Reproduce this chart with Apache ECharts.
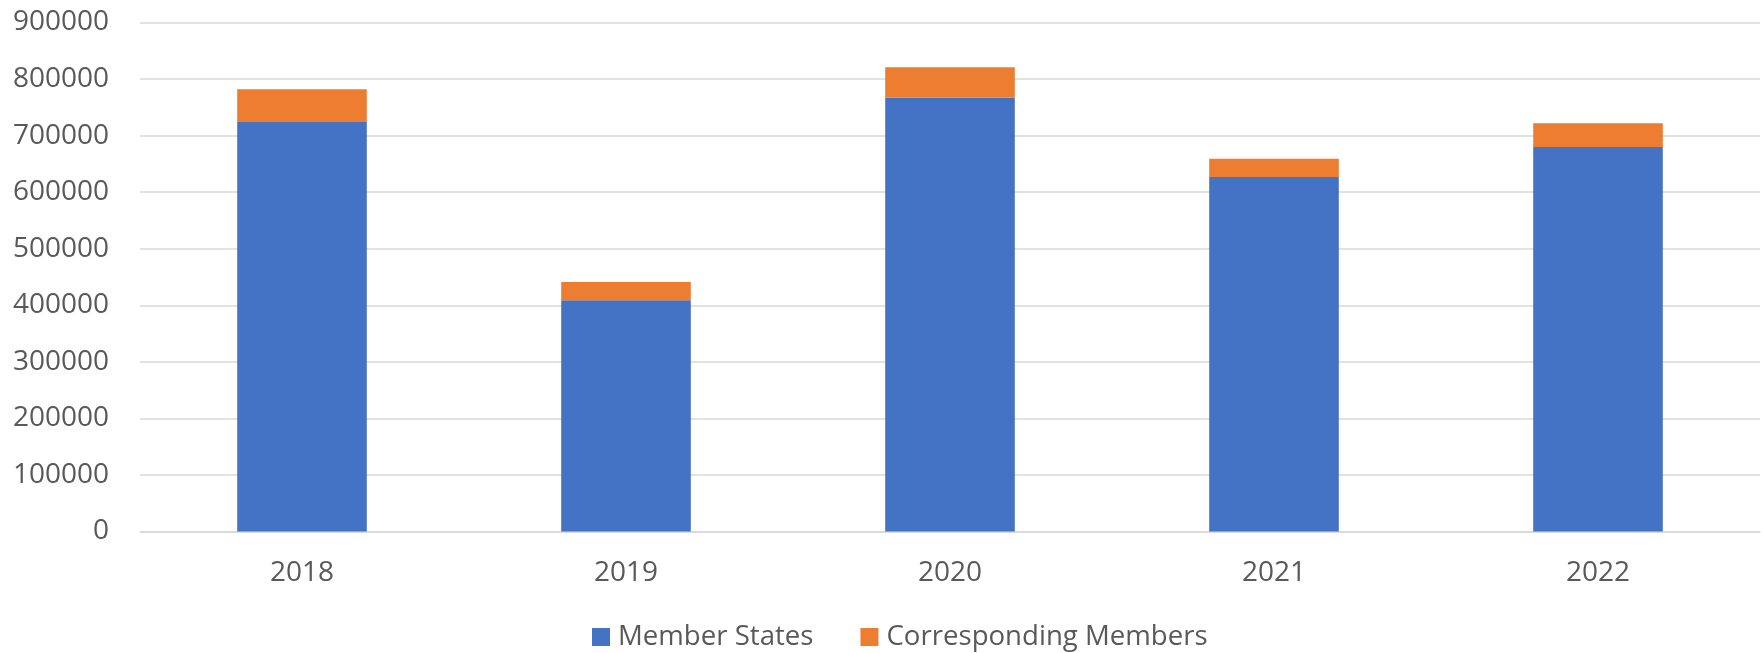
<!DOCTYPE html>
<html>
<head>
<meta charset="utf-8">
<script src="https://cdn.jsdelivr.net/npm/echarts@6/dist/echarts.min.js"></script>
<style>
html,body{margin:0;padding:0;background:#fff;}
#chart{width:1763px;height:653px;}
</style>
</head>
<body>
<div id="chart"></div>
<script>
const categories = ['2018', '2019', '2020', '2021', '2022'];
const memberStates = [724000, 409000, 767000, 627000, 680000];
const correspondingMembers = [58000, 32000, 54000, 32000, 42000];
const seriesNames = ['Member States', 'Corresponding Members'];

const FONT = '"Open Sans", "Noto Sans", sans-serif';
const chart = echarts.init(document.getElementById('chart'));
chart.setOption({
  animation: false,
  backgroundColor: '#ffffff',
  textStyle: { fontFamily: FONT },
  grid: { left: 140, right: 3, top: 22.5, bottom: 121.5, containLabel: false, outerBoundsMode: 'none' },
  legend: {
    left: 587,
    top: 618,
    itemWidth: 18,
    itemHeight: 18,
    itemGap: 47,
    icon: 'rect',
    textStyle: { color: '#595959', fontSize: 27.6, fontFamily: FONT, padding: [0, 0, 0, 3] },
    data: seriesNames
  },
  xAxis: {
    type: 'category',
    data: categories,
    axisLine: { show: true, lineStyle: { color: '#D9D9D9', width: 1.5 } },
    axisTick: { show: false },
    axisLabel: { color: '#595959', fontSize: 28, margin: 28, fontFamily: FONT }
  },
  yAxis: {
    type: 'value',
    min: 0,
    max: 900000,
    interval: 100000,
    axisLine: { show: false },
    axisTick: { show: false },
    splitLine: { lineStyle: { color: '#D9D9D9', width: 1.5 } },
    axisLabel: { color: '#595959', fontSize: 28, margin: 31, fontFamily: FONT, formatter: (v) => String(v) }
  },
  series: [
    {
      name: seriesNames[0],
      type: 'bar',
      stack: 'total',
      data: memberStates,
      barWidth: '40%',
      itemStyle: { color: '#4472C4' }
    },
    {
      name: seriesNames[1],
      type: 'bar',
      stack: 'total',
      data: correspondingMembers,
      barWidth: '40%',
      itemStyle: { color: '#ED7D31' }
    }
  ]
});
</script>
</body>
</html>
